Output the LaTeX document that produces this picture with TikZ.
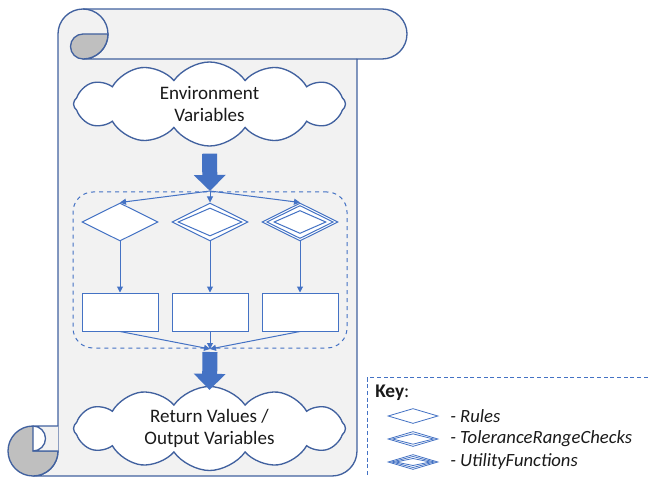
\documentclass[tikz,border=0pt]{standalone}
\usepackage{fontspec}
\setmainfont{Carlito}
\usetikzlibrary{shapes.geometric, shapes.symbols, arrows.meta, positioning}

\definecolor{scrollfill}{HTML}{F2F2F2}
\definecolor{scrollline}{HTML}{41619F}
\definecolor{curlgrey}{HTML}{BFBFBF}
\definecolor{flowblue}{HTML}{4472C4}
\definecolor{textdark}{HTML}{1A1A1A}

\tikzstyle{scroll} = [
    fill=scrollfill,
    draw=scrollline,
    line width=1pt,
    line join=round
]
\tikzstyle{curl} = [
    fill=curlgrey,
    draw=scrollline,
    line width=1pt
]
\tikzstyle{cloudbox} = [
    cloud,
    cloud puffs=12,
    cloud puff arc=110,
    cloud ignores aspect,
    inner sep=0pt,
    minimum width=204pt,
    minimum height=63pt,
    draw=scrollline,
    line width=1pt,
    fill=white,
    align=center,
    text=textdark,
    font=\fontsize{14.3}{17}\selectfont
]
\tikzstyle{decision} = [
    diamond,
    inner sep=0pt,
    minimum width=57pt,
    minimum height=28.5pt,
    draw=flowblue,
    line width=0.75pt,
    fill=white
]
\tikzstyle{inner} = [
    diamond,
    inner sep=0pt,
    draw=flowblue,
    line width=0.75pt
]
\tikzstyle{process} = [
    rectangle,
    minimum width=57pt,
    minimum height=28.5pt,
    draw=flowblue,
    line width=0.75pt,
    fill=white
]
\tikzstyle{group} = [
    rectangle,
    rounded corners=15pt,
    dashed,
    minimum width=205.5pt,
    minimum height=117pt,
    draw=flowblue,
    line width=0.75pt
]
\tikzstyle{keyframe} = [
    rectangle,
    dash pattern=on 3pt off 2pt,
    minimum width=250pt,
    minimum height=120pt,
    draw=flowblue,
    line width=0.75pt
]
\tikzstyle{keyicon} = [
    diamond,
    inner sep=0pt,
    minimum width=37.5pt,
    minimum height=11.25pt,
    draw=flowblue,
    line width=0.6pt,
    fill=white
]
\tikzstyle{keytext} = [
    text=textdark,
    inner sep=0pt,
    font=\fontsize{14}{17}\selectfont\itshape
]
\tikzstyle{arrow} = [flowblue, line width=0.75pt, -{Triangle[width=4.5pt,length=4.5pt]}]
\tikzstyle{bigarrow} = [flowblue, line width=11.25pt, -{Triangle[width=23.25pt,length=12pt]}]

\begin{document}
\begin{tikzpicture}[x=0.75pt, y=-0.75pt]

\useasboundingbox (0,0) rectangle (649,477);
\clip (0,0) rectangle (649,477);

% the scroll
\path [scroll] (33,476) -- (332,476) arc (90:0:25) -- (357,59) -- (382,59)
    arc (90:-90:25) -- (83,9) arc (270:180:25) -- (58,451) arc (0:90:25) -- cycle;
\draw [scroll, fill=none] (83,9) arc (-90:90:25) -- (357,59);
\path [curl] (83,34) -- (108,34) arc (0:90:25) arc (90:270:12.5) -- cycle;
\path [curl] (33,451) -- (58,451) arc (0:270:25) -- cycle;
\draw [scroll, fill=scrollfill] (58,426) -- (33,426) arc (270:450:12.5) -- (58,451);

% clouds
\node (env) [cloudbox] at (209.5,104) {Environment\\Variables};

\node (ret) [cloudbox] at (209.5,428.5) {Return Values /\\Output Variables};

% dashed group
\node (grp) [group] at (210,270) {};

\coordinate (fork) at (210,191);
\coordinate (join) at (210,349);

\node (d2) [decision] at (210,222) {};
\node (d2a) [inner, minimum width=48pt, minimum height=21pt] at (d2) {};

\node (d1) [decision, left=9.75pt of d2] {};

\node (d3) [decision, right=9.75pt of d2] {};
\node (d3a) [inner, minimum width=50pt, minimum height=24.75pt] at (d3) {};
\node (d3b) [inner, minimum width=39pt, minimum height=17.25pt] at (d3) {};

\node (r1) [process, below=38.25pt of d1] {};
\node (r2) [process, below=38.25pt of d2] {};
\node (r3) [process, below=38.25pt of d3] {};

\draw [bigarrow] ([yshift=-5.25pt]env.south) -- (fork);

\draw [arrow] (fork) -- (d1.north);
\draw [arrow] (fork) -- (d2.north);
\draw [arrow] (fork) -- (d3.north);

\draw [arrow] (d1) -- (r1);
\draw [arrow] (d2) -- (r2);
\draw [arrow] (d3) -- (r3);

\draw [arrow] (r1.south) -- (join);
\draw [arrow] (r2.south) -- (join);
\draw [arrow] (r3.south) -- (join);

\draw [bigarrow] ([yshift=-2.25pt]join) -- ([yshift=-3pt]ret.north);

% key
\node (keybox) [keyframe, anchor=north west] at (367,377) {};

\node (keytitle) [text=textdark, anchor=west, inner sep=0pt,
    font=\fontsize{14.5}{17}\selectfont] at (375,393) {\textbf{Key}:};

\node (k1) [keyicon] at (413,416) {};
\node (k2) [keyicon] at (413,439) {};
\node (k2a) [inner, line width=0.6pt, minimum width=31pt, minimum height=8pt] at (k2) {};
\node (k3) [keyicon] at (413,462) {};
\node (k3a) [inner, line width=0.6pt, minimum width=32pt, minimum height=8.5pt] at (k3) {};
\node (k3b) [inner, line width=0.6pt, minimum width=26pt, minimum height=5.5pt] at (k3) {};

\node (t1) [keytext, anchor=west] at (450,416) {- Rules};
\node (t2) [keytext, anchor=west] at (450,439) {- ToleranceRangeChecks};
\node (t3) [keytext, anchor=west] at (450,462) {- UtilityFunctions};

\end{tikzpicture}
\end{document}
